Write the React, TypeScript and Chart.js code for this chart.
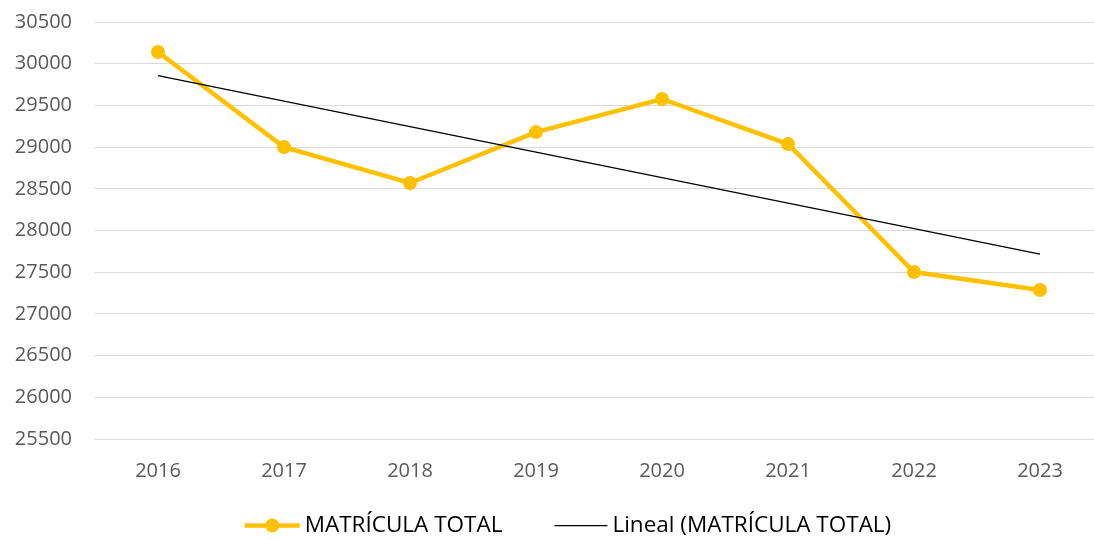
import React, { useEffect, useRef } from "react";
import { Chart, registerables } from "chart.js";

Chart.register(...registerables);

// ---- data ----
const years = ["2016", "2017", "2018", "2019", "2020", "2021", "2022", "2023"];
const matricula = [30140, 29000, 28570, 29180, 29577, 29037, 27502, 27287];
const seriesLabel = "MATRÍCULA TOTAL";
const trendLabel = "Lineal (MATRÍCULA TOTAL)";
const yMin = 25500;
const yMax = 30500;
const yStep = 500;

// least-squares linear trend of the series (as Excel's "Lineal" trendline)
function linearTrend(values: number[]): number[] {
  const n = values.length;
  const mx = (n - 1) / 2;
  const my = values.reduce((a, b) => a + b, 0) / n;
  let sxy = 0;
  let sxx = 0;
  values.forEach((v, i) => {
    sxy += (i - mx) * (v - my);
    sxx += (i - mx) * (i - mx);
  });
  const slope = sxy / sxx;
  return values.map((_, i) => my + slope * (i - mx));
}

const GOLD = "#FFC000";
const FONT = "'Open Sans', 'DejaVu Sans', sans-serif";

const legendPlugin = {
  id: "excelLegend",
  afterDraw(chart: any) {
    const ctx = chart.ctx as CanvasRenderingContext2D;
    const fontSize = 22.5;
    ctx.save();
    ctx.font = `${fontSize}px ${FONT}`;
    ctx.textBaseline = "middle";
    ctx.textAlign = "left";
    const iconW = [55, 53];
    const gapIconText = 5;
    const gapItems = 52;
    const items = chart.data.datasets.map((ds: any, i: number) => ({
      ds,
      iconW: iconW[i] ?? 53,
      textW: ctx.measureText(ds.label).width,
    }));
    const total =
      items.reduce((s: number, it: any) => s + it.iconW + gapIconText + it.textW, 0) +
      gapItems * (items.length - 1);
    const centerX = 568;
    const y = 525.5;
    let x = centerX - total / 2;
    items.forEach((it: any) => {
      const ds = it.ds;
      ctx.strokeStyle = ds.borderColor;
      ctx.lineWidth = ds.borderWidth;
      ctx.beginPath();
      ctx.moveTo(x, y);
      ctx.lineTo(x + it.iconW, y);
      ctx.stroke();
      if (ds.pointRadius > 0) {
        ctx.fillStyle = ds.pointBackgroundColor;
        ctx.beginPath();
        ctx.arc(x + it.iconW / 2, y, ds.pointRadius, 0, Math.PI * 2);
        ctx.fill();
      }
      x += it.iconW + gapIconText;
      ctx.fillStyle = "#000000";
      ctx.fillText(ds.label, x, y);
      x += it.textW + gapItems;
    });
    ctx.restore();
  },
};

export default function App() {
  const canvasRef = useRef<HTMLCanvasElement | null>(null);

  useEffect(() => {
    document.body.style.margin = "0";
    const canvas = canvasRef.current;
    if (!canvas) return;
    const trend = linearTrend(matricula);
    const chart = new Chart(canvas, {
      type: "line",
      data: {
        labels: years,
        datasets: [
          {
            label: seriesLabel,
            data: matricula,
            borderColor: GOLD,
            backgroundColor: GOLD,
            pointBackgroundColor: GOLD,
            pointBorderColor: GOLD,
            borderWidth: 4.5,
            pointRadius: 7,
            pointBorderWidth: 0,
            tension: 0,
            order: 1,
          },
          {
            label: trendLabel,
            data: trend,
            borderColor: "#000000",
            backgroundColor: "#000000",
            pointBackgroundColor: "#000000",
            borderWidth: 1.25,
            pointRadius: 0,
            tension: 0,
            order: 0,
          },
        ],
      },
      options: {
        responsive: false,
        animation: false,
        layout: { padding: { top: 22, right: 6, bottom: 51, left: 0 } },
        plugins: {
          legend: { display: false },
          tooltip: { enabled: false },
        },
        scales: {
          x: {
            offset: true,
            grid: { display: false, drawTicks: false },
            border: { display: false },
            ticks: {
              color: "#595959",
              font: { family: FONT, size: 20 },
              padding: 20,
            },
            afterFit(scale: any) {
              scale.height = 50;
              scale.paddingLeft = 0;
              scale.paddingRight = 0;
            },
          },
          y: {
            min: yMin,
            max: yMax,
            grid: { color: "#D9D9D9", lineWidth: 1, drawTicks: false },
            border: { display: false },
            ticks: {
              stepSize: yStep,
              color: "#595959",
              font: { family: FONT, size: 20 },
              padding: 23,
              callback: (v: any) => String(v),
            },
            afterFit(scale: any) {
              scale.width = 95;
              scale.paddingTop = 0;
              scale.paddingBottom = 0;
            },
          },
        },
      },
      plugins: [legendPlugin],
    });
    return () => chart.destroy();
  }, []);

  return (
    <div style={{ width: 1094, height: 540, overflow: "hidden", background: "#fff" }}>
      <canvas ref={canvasRef} width={1110} height={540} style={{ display: "block" }} />
    </div>
  );
}
